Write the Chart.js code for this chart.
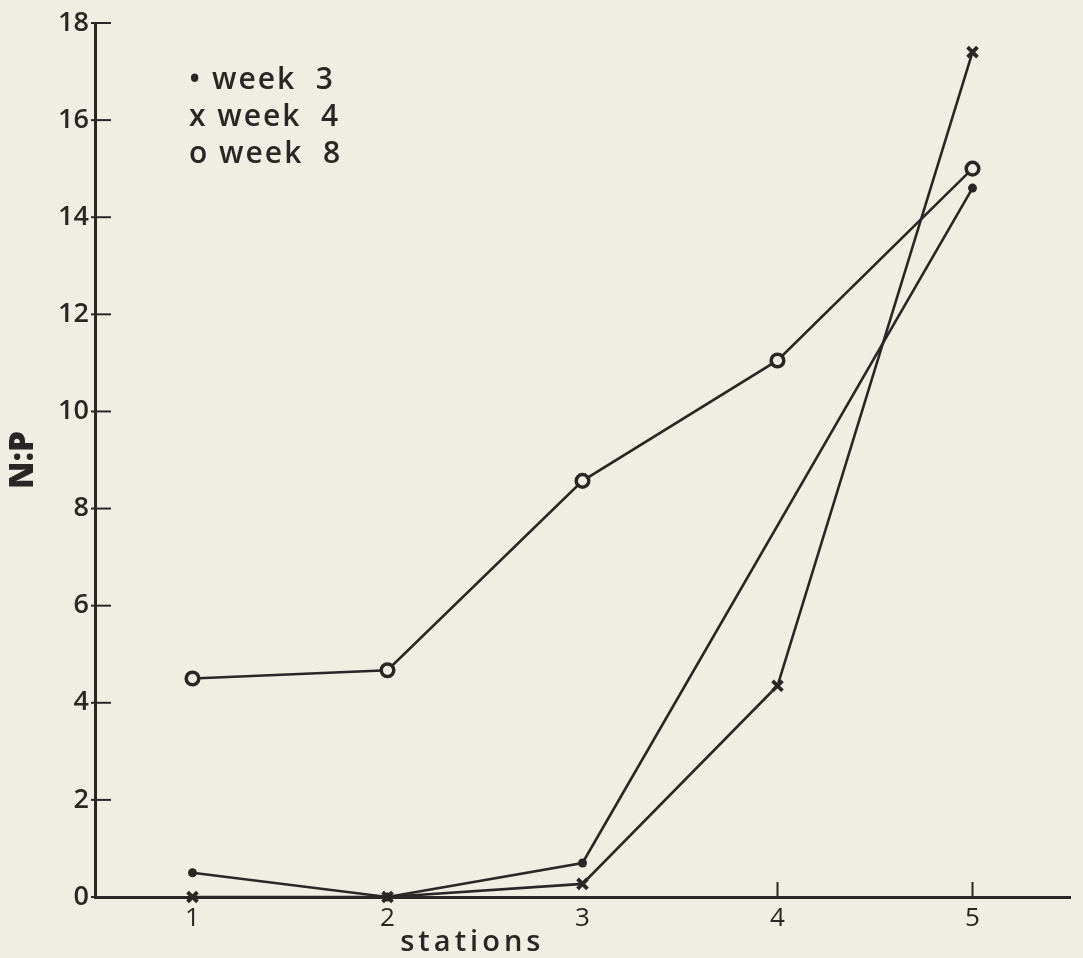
<!DOCTYPE html>
<html>
<head>
<meta charset="utf-8">
<script src="https://cdn.jsdelivr.net/npm/chart.js@4/dist/chart.umd.min.js"></script>
<style>
  html, body { margin: 0; padding: 0; background: #f0eee2; }
  #wrap { width: 1083px; height: 958px; position: relative; }
  canvas { display: block; }
</style>
</head>
<body>
<div id="wrap"><canvas id="c" width="1083" height="958"></canvas></div>
<script>
// ---- data ----
const stations = ['1', '2', '3', '4', '5'];
const week3 = [0.5, 0, 0.7, null, 14.6];
const week4 = [0, 0, 0.27, 4.35, 17.4];
const week8 = [4.5, 4.67, 8.57, 11.05, 15.0];
const seriesNames = ['week 3', 'week 4', 'week 8'];
const legendLines = ['\u2022 week  3', 'x week  4', 'o week  8'];
const yMin = 0, yMax = 18, yStep = 2;
const xTitle = 'stations';
const yTitle = 'N:P';

const INK = '#2a2626';
const BG = '#f0eee2';
const FONT = "'Open Sans', 'DejaVu Sans', sans-serif";

const decorPlugin = {
  id: 'decor',
  beforeDatasetsDraw(chart) {
    const ctx = chart.ctx;
    const xs = chart.scales.x, ys = chart.scales.y;
    const a = chart.chartArea;
    ctx.save();
    ctx.strokeStyle = INK;
    ctx.lineWidth = 2;
    ys.ticks.forEach(t => {
      const y = ys.getPixelForValue(t.value);
      ctx.beginPath(); ctx.moveTo(a.left - 4, y); ctx.lineTo(a.left + 16, y); ctx.stroke();
    });
    // station ticks, left out where a marker already sits on the axis
    xs.ticks.forEach((t, i) => {
      const nearAxis = chart.data.datasets.some(d => d.data[i] !== null && d.data[i] < 1);
      if (nearAxis) return;
      const x = xs.getPixelForTick(i);
      ctx.beginPath(); ctx.moveTo(x, a.bottom - 15); ctx.lineTo(x, a.bottom); ctx.stroke();
    });
    ctx.restore();
  },
  afterDraw(chart) {
    const ctx = chart.ctx;
    const a = chart.chartArea;
    ctx.save();
    ctx.fillStyle = INK;
    ctx.font = "600 30px " + FONT;
    ctx.letterSpacing = '2px';
    ctx.textBaseline = 'middle';
    ctx.textAlign = 'left';
    legendLines.forEach((s, i) => {
      ctx.fillText(s, a.left + 94, a.top + 57 + i * 37);
    });
    ctx.font = "600 29px " + FONT;
    ctx.letterSpacing = '4px';
    ctx.textAlign = 'center';
    ctx.fillText(xTitle, a.left + 0.387 * (a.right - a.left), a.bottom + 46);
    ctx.restore();
  }
};

new Chart(document.getElementById('c'), {
  type: 'line',
  data: {
    labels: stations,
    datasets: [
      {
        label: seriesNames[0], data: week3, spanGaps: true, clip: false,
        borderColor: INK, borderWidth: 2.6, backgroundColor: INK,
        pointStyle: 'circle', pointRadius: 4.5, pointBorderWidth: 0,
        pointBackgroundColor: INK, tension: 0
      },
      {
        label: seriesNames[1], data: week4, clip: false,
        borderColor: INK, borderWidth: 2.6,
        pointStyle: 'crossRot', pointRadius: 7, pointBorderWidth: 3.8,
        pointBorderColor: INK, tension: 0
      },
      {
        label: seriesNames[2], data: week8, clip: false,
        borderColor: INK, borderWidth: 2.6,
        pointStyle: 'circle', pointRadius: 6.3, pointBorderWidth: 3.5,
        pointBorderColor: INK, pointBackgroundColor: BG, tension: 0
      }
    ]
  },
  options: {
    responsive: false,
    animation: false,
    layout: { padding: { left: 0, right: 13, top: 23, bottom: 0 } },
    plugins: { legend: { display: false }, tooltip: { enabled: false } },
    scales: {
      x: {
        type: 'category',
        offset: true,
        grid: { display: false, drawTicks: false },
        border: { display: true, color: INK, width: 3 },
        ticks: { color: INK, font: { family: FONT, size: 26, weight: '400' }, padding: 6, maxRotation: 0 },
        afterFit(scale) { scale.height = 61; }
      },
      y: {
        min: yMin, max: yMax,
        grid: { display: false, drawTicks: false },
        border: { display: true, color: INK, width: 3 },
        ticks: { stepSize: yStep, color: INK, font: { family: FONT, size: 27, weight: '600' }, padding: 6 },
        title: { display: true, text: yTitle, color: INK, font: { family: FONT, size: 33, weight: '800' }, padding: { top: 4, bottom: 0 } },
        afterFit(scale) { scale.width = 95; }
      }
    }
  },
  plugins: [decorPlugin]
});
</script>
</body>
</html>
